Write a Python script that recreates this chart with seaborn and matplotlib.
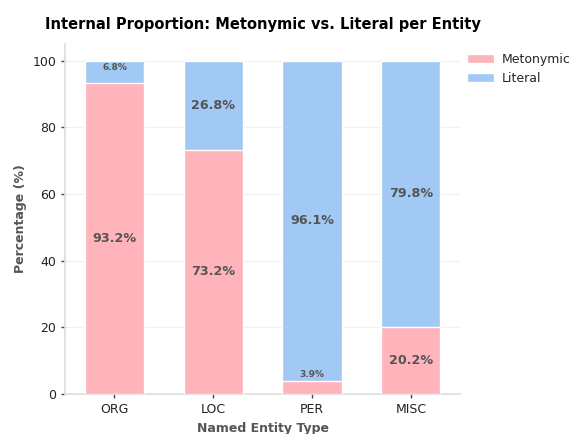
import pandas as pd
import seaborn as sns
import matplotlib
matplotlib.use("Agg")
import matplotlib.pyplot as plt

# values
entities = ["ORG", "LOC", "PER", "MISC"]
metonymic = [93.2, 73.2, 3.9, 20.2]
literal = [6.8, 26.8, 96.1, 79.8]

pink = "#FFB3BA"
blue = "#A1C9F4"

sns.set_theme(style="whitegrid")
plt.rcParams["font.family"] = ["DejaVu Sans"]

df = pd.DataFrame({"entity": entities, "metonymic": metonymic, "literal": literal})
df["total"] = df["metonymic"] + df["literal"]

fig = plt.figure(figsize=(5.76, 4.34), dpi=100)
ax = fig.add_axes([0.113, 0.092, 0.686, 0.807])

# total bar (literal on top), then metonymic over it
sns.barplot(data=df, x="entity", y="total", color=blue, width=0.6, saturation=1,
            edgecolor="white", linewidth=1, ax=ax, label="Literal", zorder=2)
sns.barplot(data=df, x="entity", y="metonymic", color=pink, width=0.6, saturation=1,
            edgecolor="white", linewidth=1, ax=ax, label="Metonymic", zorder=3)

# percentage labels
for i, row in df.iterrows():
    for bottom, h in [(0, row["metonymic"]), (row["metonymic"], row["literal"])]:
        if h >= 10:
            ax.text(i, bottom + h / 2, f"{h:.1f}%", ha="center", va="center",
                    fontsize=9.2, fontweight="bold", color="#555555", zorder=5)
        else:
            y = bottom + h + 2 if bottom + h + 2 < 100 else bottom + h - 2
            ax.text(i, y, f"{h:.1f}%", ha="center", va="center",
                    fontsize=6.5, fontweight="bold", color="#555555", zorder=5)

ax.set_ylim(0, 105)
ax.set_title("Internal Proportion: Metonymic vs. Literal per Entity",
             fontsize=10.5, fontweight="bold", pad=11, color="black")
ax.set_xlabel("Named Entity Type", fontsize=9, fontweight="bold", color="#555555")
ax.set_ylabel("Percentage (%)", fontsize=9, fontweight="bold", color="#555555")
ax.tick_params(axis="both", labelsize=9, labelcolor="#222222", color="#444444",
               length=3, width=1, bottom=True, left=True)
ax.grid(axis="y", color="#f0f0f0", linewidth=0.8, zorder=0)
ax.grid(axis="x", visible=False)
ax.set_axisbelow(True)

sns.despine(ax=ax)
for s in ["left", "bottom"]:
    ax.spines[s].set_color("#dddddd")
    ax.spines[s].set_linewidth(1.2)

handles, labels = ax.get_legend_handles_labels()
order = [labels.index("Metonymic"), labels.index("Literal")]
ax.legend([handles[k] for k in order], [labels[k] for k in order],
          loc="upper left", bbox_to_anchor=(0.995, 1.0), frameon=False, fontsize=9,
          handlelength=2.2, handletextpad=0.6, borderaxespad=0.3)

fig.savefig("out.png", dpi=100)
